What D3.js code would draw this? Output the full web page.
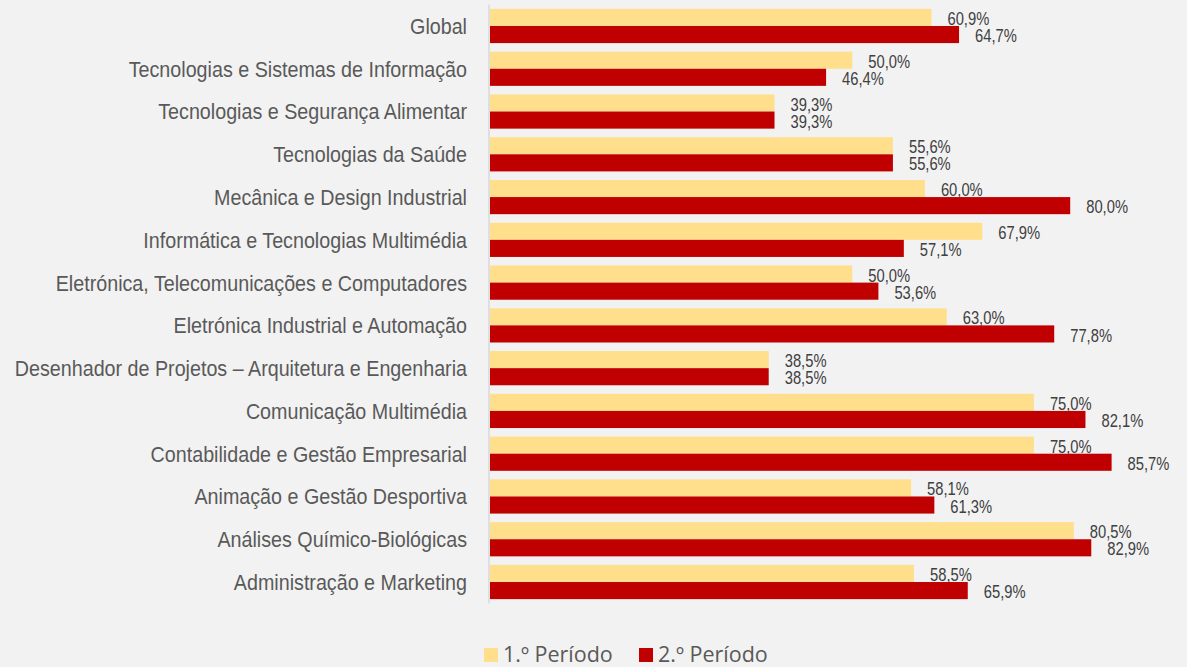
<!DOCTYPE html>
<html><head><meta charset="utf-8">
<script src="https://cdn.jsdelivr.net/npm/d3@7/dist/d3.min.js"></script>
<style>
html,body{margin:0;padding:0;background:#f2f2f2;}
svg{display:block;}
</style></head>
<body>
<svg id="chart" width="1187" height="667"></svg>
<script>
const categories = [
  "Global",
  "Tecnologias e Sistemas de Informação",
  "Tecnologias e Segurança Alimentar",
  "Tecnologias da Saúde",
  "Mecânica e Design Industrial",
  "Informática e Tecnologias Multimédia",
  "Eletrónica, Telecomunicações e Computadores",
  "Eletrónica Industrial e Automação",
  "Desenhador de Projetos – Arquitetura e Engenharia",
  "Comunicação Multimédia",
  "Contabilidade e Gestão Empresarial",
  "Animação e Gestão Desportiva",
  "Análises Químico-Biológicas",
  "Administração e Marketing"
];
const periodo1 = [60.9, 50.0, 39.3, 55.6, 60.0, 67.9, 50.0, 63.0, 38.5, 75.0, 75.0, 58.1, 80.5, 58.5];
const periodo2 = [64.7, 46.4, 39.3, 55.6, 80.0, 57.1, 53.6, 77.8, 38.5, 82.1, 85.7, 61.3, 82.9, 65.9];
const seriesNames = ["1.º Período", "2.º Período"];
const seriesColors = ["#ffdf8c", "#c00000"];

const svg = d3.select("#chart");
const sans = "'Liberation Sans',Arial,sans-serif";
const catScale = 0.80;   // narrow look
const valScale = 0.82;

const x = d3.scaleLinear().domain([0, 100]).range([489, 1215.5]);
const y = d3.scaleBand().domain(categories).range([4.6, 603.4]).paddingInner(0.2).paddingOuter(0.1);
const sub = d3.scaleBand().domain([0, 1]).range([0, y.bandwidth()]);

const series = [periodo1, periodo2];

// axis line
svg.append("line").attr("x1", 489).attr("x2", 489).attr("y1", 4.6).attr("y2", 603.4)
  .attr("stroke", "#d9d9d9").attr("stroke-width", 1.5);

series.forEach((vals, si) => {
  svg.append("g").selectAll("rect").data(vals).join("rect")
    .attr("x", x(0) + 1)
    .attr("y", (d, i) => y(categories[i]) + sub(si))
    .attr("width", d => x(d) - x(0) - 1)
    .attr("height", sub.bandwidth())
    .attr("fill", seriesColors[si]);
  svg.append("g").selectAll("text").data(vals).join("text")
    .attr("transform", (d, i) => `translate(${x(d) + 16},${y(categories[i]) + sub(si) + sub.bandwidth() / 2 + 1}) scale(${valScale},1)`)
    .attr("dominant-baseline", "central")
    .attr("font-family", sans)
    .attr("font-size", 18)
    .attr("fill", "#404040")
    .text(d => d.toFixed(1).replace(".", ",") + "%");
});

// category labels
const cats = svg.append("g").selectAll("text").data(categories).join("text")
  .attr("transform", d => `translate(467,${y(d) + y.bandwidth() / 2}) scale(${catScale},1)`)
  .attr("dominant-baseline", "central")
  .attr("text-anchor", "end")
  .attr("font-family", sans)
  .attr("font-size", 22)
  .attr("fill", "#595959")
  .text(d => d);
// fit longest label to reference width (~452px)
let maxW = 0;
cats.each(function () { maxW = Math.max(maxW, this.getComputedTextLength()); });
const k = 452 / maxW;
cats.attr("transform", d => `translate(467,${y(d) + y.bandwidth() / 2}) scale(${k},1)`);

// legend
const legendX = [484, 639];
seriesNames.forEach((n, i) => {
  svg.append("rect").attr("x", legendX[i]).attr("y", 648).attr("width", 14).attr("height", 14)
    .attr("fill", seriesColors[i]);
  svg.append("text").attr("x", legendX[i] + 19).attr("y", 662)
    .attr("font-family", "'Open Sans','Noto Sans',sans-serif")
    .attr("font-size", 21.5)
    .attr("fill", "#595959")
    .text(n);
});
</script>
</body></html>
